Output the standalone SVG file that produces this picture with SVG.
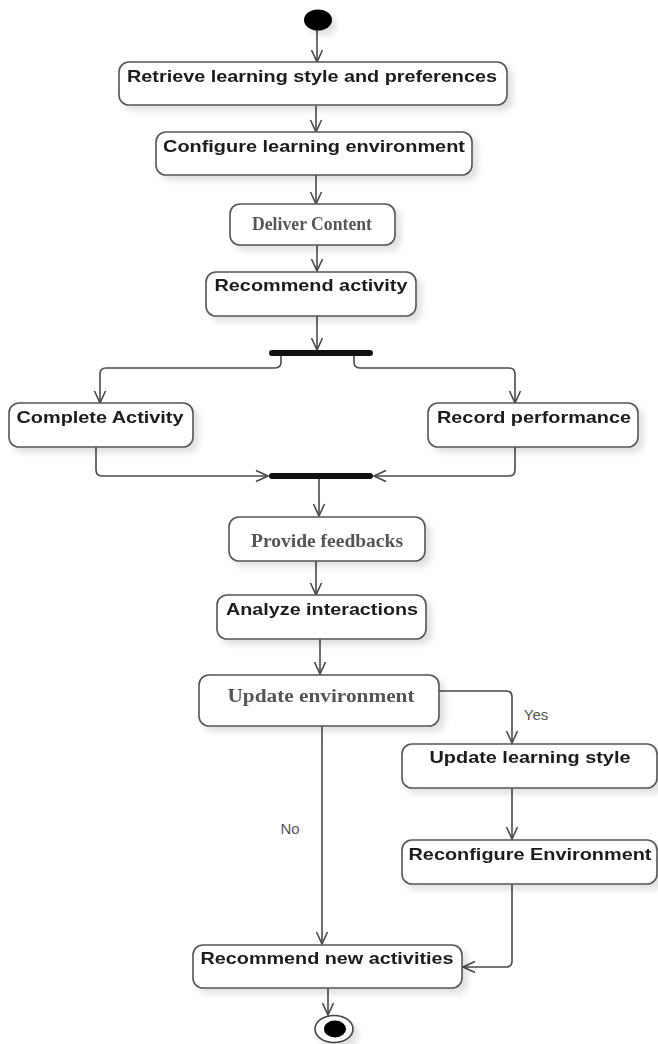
<svg xmlns="http://www.w3.org/2000/svg" width="658" height="1044" viewBox="0 0 658 1044">
<style>
.box{fill:#fff;stroke:#555;stroke-width:1.6}
.t{font-family:"Liberation Sans",Arial,sans-serif;font-weight:bold;font-size:16.5px;fill:#1a1a1a;text-anchor:middle}
.ts{font-family:"Liberation Serif","Times New Roman",serif;font-weight:bold;font-size:18px;fill:#555;text-anchor:middle}
.lbl{font-family:"Liberation Sans",Arial,sans-serif;font-size:15px;fill:#555;text-anchor:middle}
.c{fill:none;stroke:#4a4a4a;stroke-width:1.6;marker-end:url(#ah)}
.bar{fill:#111}
</style>
<defs>
<marker id="ah" viewBox="0 0 14 14" refX="13" refY="7" markerWidth="14" markerHeight="14" markerUnits="userSpaceOnUse" orient="auto">
<path d="M1,1.5 L13,7 L1,12.5" fill="none" stroke="#4a4a4a" stroke-width="1.6"/>
</marker>
<filter id="sh" x="-10%" y="-20%" width="130%" height="160%">
<feDropShadow dx="5" dy="5" stdDeviation="3" flood-color="#000" flood-opacity="0.12"/>
</filter>
</defs>
<rect width="658" height="1044" fill="#fff"/>

<g id="connectors">
<path class="c" d="M317 30 V62"/>
<path class="c" d="M316 106 V132"/>
<path class="c" d="M316 175 V204"/>
<path class="c" d="M317 245 V271"/>
<path class="c" d="M317 316 V350"/>
<path class="c" d="M281 356 V362 Q281 368 275 368 H106 Q100 368 100 374 V403"/>
<path class="c" d="M354 356 V362 Q354 368 360 368 H509 Q515 368 515 374 V403"/>
<path class="c" d="M96 447 V470 Q96 476 102 476 H268"/>
<path class="c" d="M515 447 V470 Q515 476 509 476 H374"/>
<path class="c" d="M319 479 V516"/>
<path class="c" d="M316 561 V595"/>
<path class="c" d="M320 639 V674"/>
<path class="c" d="M439 691 H506 Q512 691 512 697 V743"/>
<path class="c" d="M512 788 V839"/>
<path class="c" d="M512 884 V961 Q512 967 506 967 H463"/>
<path class="c" d="M322 726 V944"/>
<path class="c" d="M328 988 V1015"/>
<text class="lbl" x="536" y="720">Yes</text>
<text class="lbl" x="290" y="834">No</text>
</g>

<g id="start"><ellipse cx="318" cy="20" rx="14" ry="10.5" fill="#000" filter="url(#sh)"/></g>

<g id="retrieve" filter="url(#sh)"><rect class="box" x="119" y="62" width="388" height="43" rx="10"/><text class="t" x="312" y="82" textLength="370" lengthAdjust="spacingAndGlyphs">Retrieve learning style and preferences</text></g>
<g id="configure" filter="url(#sh)"><rect class="box" x="156" y="132" width="316" height="43" rx="10"/><text class="t" x="314" y="152" textLength="302" lengthAdjust="spacingAndGlyphs">Configure learning environment</text></g>
<g id="deliver" filter="url(#sh)"><rect class="box" x="230" y="204" width="165" height="41" rx="10"/><text class="ts" x="312" y="230" textLength="120" lengthAdjust="spacingAndGlyphs">Deliver Content</text></g>
<g id="recommend" filter="url(#sh)"><rect class="box" x="206" y="272" width="210" height="44" rx="10"/><text class="t" x="311" y="291" textLength="193" lengthAdjust="spacingAndGlyphs">Recommend activity</text></g>

<g id="fork"><rect class="bar" x="269" y="350" width="104" height="6" rx="3"/></g>

<g id="complete" filter="url(#sh)"><rect class="box" x="9" y="403" width="184" height="44" rx="10"/><text class="t" x="100" y="423" textLength="167" lengthAdjust="spacingAndGlyphs">Complete Activity</text></g>
<g id="record" filter="url(#sh)"><rect class="box" x="428" y="403" width="210" height="44" rx="10"/><text class="t" x="534" y="423" textLength="194" lengthAdjust="spacingAndGlyphs">Record performance</text></g>

<g id="join"><rect class="bar" x="269" y="473" width="104" height="6" rx="3"/></g>

<g id="feedback" filter="url(#sh)"><rect class="box" x="229" y="517" width="196" height="44" rx="10"/><text class="ts" x="327" y="547" textLength="152" lengthAdjust="spacingAndGlyphs">Provide feedbacks</text></g>
<g id="analyze" filter="url(#sh)"><rect class="box" x="217" y="595" width="209" height="44" rx="10"/><text class="t" x="322" y="615" textLength="192" lengthAdjust="spacingAndGlyphs">Analyze interactions</text></g>
<g id="update-env" filter="url(#sh)"><rect class="box" x="199" y="675" width="240" height="51" rx="10"/><text class="ts" x="321" y="702" font-size="20" textLength="187" lengthAdjust="spacingAndGlyphs">Update environment</text></g>
<g id="update-style" filter="url(#sh)"><rect class="box" x="402" y="744" width="255" height="44" rx="10"/><text class="t" x="530" y="763" textLength="201" lengthAdjust="spacingAndGlyphs">Update learning style</text></g>
<g id="reconfigure" filter="url(#sh)"><rect class="box" x="402" y="840" width="255" height="44" rx="10"/><text class="t" x="530" y="860" textLength="243" lengthAdjust="spacingAndGlyphs">Reconfigure Environment</text></g>
<g id="recommend-new" filter="url(#sh)"><rect class="box" x="193" y="945" width="269" height="43" rx="10"/><text class="t" x="327" y="964" textLength="253" lengthAdjust="spacingAndGlyphs">Recommend new activities</text></g>

<g id="end" filter="url(#sh)"><ellipse cx="334" cy="1029" rx="19" ry="13.5" fill="#fff" stroke="#444" stroke-width="1.6"/><ellipse cx="335" cy="1029" rx="11" ry="8.5" fill="#000"/></g>
</svg>
